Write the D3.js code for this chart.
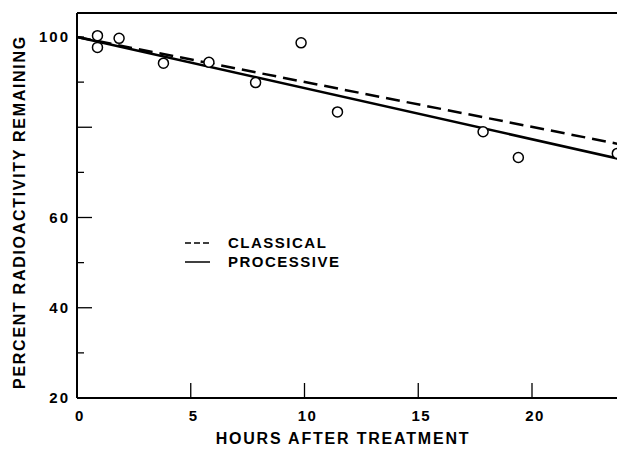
<!DOCTYPE html>
<head>
  <meta charset="utf-8">
  <script src="https://d3js.org/d3.v7.min.js"></script>
  <style>
    body { margin:0; background-color: white; }
    text {
      font-family: 'Liberation Sans', Arial, sans-serif;
      font-weight: bold;
      fill: black;
    }
  </style>
</head>
<body>
  <svg id="chart" width="617" height="453"></svg>
  <script>
  // measured points
  var hours   = [0.9, 0.9, 1.85, 3.8, 5.8, 7.85, 9.85, 11.45, 17.85, 19.4, 23.75];
  var percent = [100.3, 97.7, 99.7, 94.2, 94.4, 89.9, 98.7, 83.4, 79.0, 73.3, 74.2];

  // fitted curves
  var fitHours   = [0, 24];
  var classical  = [100, 76.1];
  var processive = [100, 72.8];

  var xTicks = [0, 5, 10, 15, 20];
  var yLabelTicks = [20, 40, 60, 100];
  var yLongTicks = [40, 60, 80];
  var yShortTicks = [30, 50, 70, 90, 100];

  var svg = d3.select("#chart");

  var x = d3.scaleLinear().domain([0, 24]).range([77, 77 + 24 * 22.75]);
  var y = d3.scaleLinear().domain([20, 100]).range([398, 37]);
  var yTop = 13;

  // frame: left axis, bottom axis, top line
  svg.append("line")
      .attr("x1", x(0)).attr("x2", x(0))
      .attr("y1", y(20)).attr("y2", yTop)
      .attr("stroke", "black").attr("stroke-width", 2);
  svg.append("line")
      .attr("x1", x(0)).attr("x2", 617)
      .attr("y1", y(20)).attr("y2", y(20))
      .attr("stroke", "black").attr("stroke-width", 2);
  svg.append("line")
      .attr("x1", x(0)).attr("x2", 617)
      .attr("y1", yTop).attr("y2", yTop)
      .attr("stroke", "black").attr("stroke-width", 2);

  // y ticks (inward)
  svg.selectAll(".ylong").data(yLongTicks).enter().append("line")
      .attr("x1", x(0)).attr("x2", x(0) + 15)
      .attr("y1", function(d) { return y(d); })
      .attr("y2", function(d) { return y(d); })
      .attr("stroke", "black").attr("stroke-width", 1.3);
  svg.selectAll(".yshort").data(yShortTicks).enter().append("line")
      .attr("x1", x(0)).attr("x2", x(0) + 7)
      .attr("y1", function(d) { return y(d); })
      .attr("y2", function(d) { return y(d); })
      .attr("stroke", "black").attr("stroke-width", 1.3);

  svg.selectAll(".ylab").data(yLabelTicks).enter().append("text")
      .attr("x", 70)
      .attr("y", function(d) { return y(d); })
      .attr("dy", "0.36em")
      .style("text-anchor", "end")
      .style("font-size", "15px")
      .style("letter-spacing", "2px")
      .text(function(d) { return d; });

  // x ticks (upward)
  svg.selectAll(".xtick").data(xTicks.slice(1)).enter().append("line")
      .attr("x1", function(d) { return x(d); })
      .attr("x2", function(d) { return x(d); })
      .attr("y1", y(20)).attr("y2", y(20) - 15)
      .attr("stroke", "black").attr("stroke-width", 1.3);

  svg.selectAll(".xlab").data(xTicks).enter().append("text")
      .attr("x", function(d) { return x(d) + 3; })
      .attr("y", 421)
      .style("text-anchor", "middle")
      .style("font-size", "15px")
      .style("letter-spacing", "1.5px")
      .text(function(d) { return d; });

  // axis titles
  svg.append("text")
      .attr("x", 343)
      .attr("y", 444)
      .style("text-anchor", "middle")
      .style("font-size", "16px")
      .style("letter-spacing", "1.8px")
      .text("HOURS AFTER TREATMENT");

  svg.append("text")
      .attr("transform", "translate(25,212) rotate(-90)")
      .style("text-anchor", "middle")
      .style("font-size", "16px")
      .style("letter-spacing", "1.7px")
      .text("PERCENT RADIOACTIVITY REMAINING");

  // curves
  var line = d3.line()
      .x(function(d) { return x(d[0]); })
      .y(function(d) { return y(d[1]); });

  svg.append("path")
      .datum(d3.zip(fitHours, classical))
      .attr("d", line)
      .attr("fill", "none")
      .attr("stroke", "black")
      .attr("stroke-width", 2.5)
      .attr("stroke-dasharray", "14,7");

  svg.append("path")
      .datum(d3.zip(fitHours, processive))
      .attr("d", line)
      .attr("fill", "none")
      .attr("stroke", "black")
      .attr("stroke-width", 2.5);

  // points
  svg.selectAll(".pt").data(d3.zip(hours, percent)).enter().append("circle")
      .attr("cx", function(d) { return x(d[0]); })
      .attr("cy", function(d) { return y(d[1]); })
      .attr("r", 5)
      .attr("fill", "white")
      .attr("stroke", "black")
      .attr("stroke-width", 1.5);

  // legend
  var legend = [["CLASSICAL", "6,3"], ["PROCESSIVE", null]];
  var lg = svg.selectAll(".legend").data(legend).enter().append("g")
      .attr("transform", function(d, i) { return "translate(185," + (243 + 19 * i) + ")"; });
  lg.append("line")
      .attr("x1", 0).attr("x2", 25)
      .attr("stroke", "black").attr("stroke-width", 1.5)
      .attr("stroke-dasharray", function(d) { return d[1]; });
  lg.append("text")
      .attr("x", 43)
      .attr("dy", "0.36em")
      .style("font-size", "15px")
      .style("letter-spacing", "1.5px")
      .text(function(d) { return d[0]; });
  </script>
</body>
